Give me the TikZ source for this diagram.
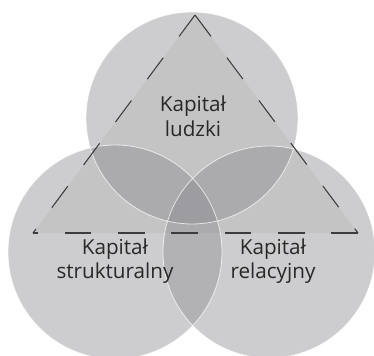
\documentclass[tikz,border=0pt]{standalone}
\usepackage{fontspec}
\setmainfont{Open Sans}
\begin{document}
\begin{tikzpicture}[x=0.75pt,y=-0.75pt,
  capfill/.style={fill={rgb,255:red,150;green,150;blue,154},fill opacity=0.48},
  caprim/.style={draw=white,draw opacity=0.7,line width=0.6pt},
  triedge/.style={draw={rgb,255:red,60;green,60;blue,62},line width=0.8pt,dash pattern=on 20pt off 20pt},
  label/.style={align=center,text={rgb,255:red,40;green,40;blue,40},font=\fontsize{15.5}{18.5}\selectfont,inner sep=0pt}]
\useasboundingbox (0,0) rectangle (374,356);
% the three capital circles
\coordinate (ct) at (192,118);
\coordinate (cl) at (115,252);
\coordinate (cr) at (269,252);
\fill[capfill] (ct) circle[radius=79.5pt];
\fill[capfill] (cl) circle[radius=80.25pt];
\fill[capfill] (cr) circle[radius=79.5pt];
% triangle joining the three capitals
\coordinate (ta) at (195,15);
\coordinate (tl) at (33,233);
\coordinate (tr) at (358,233);
\fill[black,fill opacity=0.045] (ta) -- (tr) -- (tl) -- cycle;
\draw[caprim] (ct) circle[radius=79.5pt];
\draw[caprim] (cl) circle[radius=80.25pt];
\draw[caprim] (cr) circle[radius=79.5pt];
\draw[triedge] (tr) -- (tl);
\draw[triedge] (ta) -- (tl);
\draw[triedge] (ta) -- (tr);
% labels
\node[label] (hum) at (193,116) {Kapitał\\ludzki};
\node[label] (str) at (115,261) {Kapitał\\strukturalny};
\node[label] (rel) at (273,261) {Kapitał\\relacyjny};
\end{tikzpicture}
\end{document}
